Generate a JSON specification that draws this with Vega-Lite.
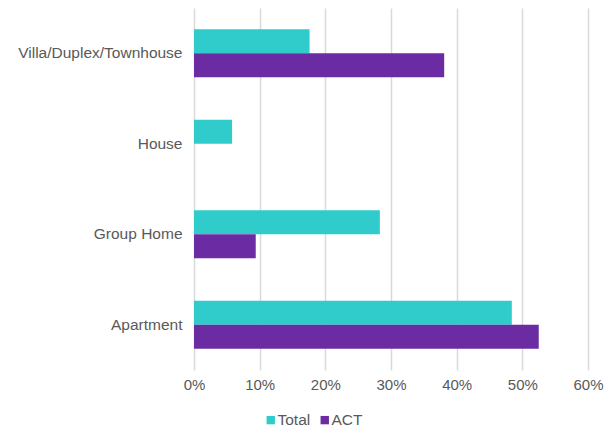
{
  "$schema": "https://vega.github.io/schema/vega-lite/v6.json",
  "autosize": {"type": "none"},
  "padding": {"left": 194, "top": 8, "right": 17, "bottom": 62},
  "width": 394,
  "height": 362,
  "background": "white",
  "data": {
    "values": [
      {"category": "Villa/Duplex/Townhouse", "series": "Total", "value": 0.176},
      {"category": "Villa/Duplex/Townhouse", "series": "ACT", "value": 0.381},
      {"category": "House", "series": "Total", "value": 0.058},
      {"category": "House", "series": "ACT", "value": 0.0},
      {"category": "Group Home", "series": "Total", "value": 0.283},
      {"category": "Group Home", "series": "ACT", "value": 0.094},
      {"category": "Apartment", "series": "Total", "value": 0.484},
      {"category": "Apartment", "series": "ACT", "value": 0.525}
    ]
  },
  "mark": {"type": "bar"},
  "encoding": {
    "y": {
      "field": "category",
      "type": "nominal",
      "sort": ["Villa/Duplex/Townhouse", "House", "Group Home", "Apartment"],
      "scale": {"paddingInner": 0.47, "paddingOuter": 0.235},
      "axis": {
        "title": null,
        "domain": false,
        "ticks": false,
        "labelPadding": 12,
        "labelFont": "Liberation Sans",
        "labelFontSize": 15.5,
        "labelColor": "#595959",
        "labelLimit": 300
      }
    },
    "yOffset": {"field": "series", "type": "nominal", "sort": ["Total", "ACT"]},
    "x": {
      "field": "value",
      "type": "quantitative",
      "scale": {"domain": [0, 0.6], "nice": false},
      "axis": {
        "title": null,
        "format": ".0%",
        "values": [0, 0.1, 0.2, 0.3, 0.4, 0.5, 0.6],
        "domain": false,
        "ticks": false,
        "grid": true,
        "gridColor": "#d9d9d9",
        "gridWidth": 1.5,
        "labelPadding": 7,
        "labelFont": "Liberation Sans",
        "labelFontSize": 15,
        "labelColor": "#595959",
        "labelFlush": false
      }
    },
    "color": {
      "field": "series",
      "type": "nominal",
      "sort": ["Total", "ACT"],
      "scale": {"domain": ["Total", "ACT"], "range": ["#30CBCB", "#6B2BA3"]},
      "legend": {
        "title": null,
        "orient": "none",
        "direction": "horizontal",
        "legendX": 69,
        "legendY": 404,
        "symbolType": "square",
        "symbolSize": 70,
        "symbolStrokeWidth": 0,
        "labelFont": "Liberation Sans",
        "labelFontSize": 15.5,
        "labelColor": "#595959",
        "labelOffset": -1,
        "columnPadding": 6
      }
    }
  },
  "config": {"view": {"stroke": null}, "axisY": {"grid": false}}
}
